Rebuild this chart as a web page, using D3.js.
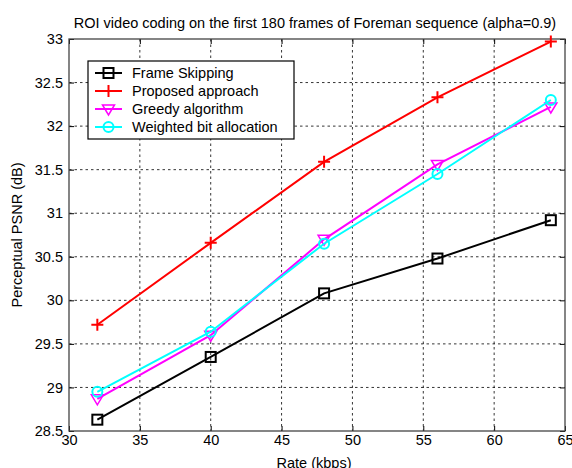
<!DOCTYPE html>
<meta charset="utf-8">
<head>
<style>
body { margin: 0; background: #fff; }
text { font-family: "Liberation Sans", Arial, sans-serif; font-size: 14.5px; fill: #000; }
.grid line { stroke: #000; stroke-dasharray: 2.5,3; stroke-width: 0.8; }
.series { fill: none; stroke-width: 2; }
</style>
</head>
<body>
<svg width="572" height="468"></svg>
<script src="https://d3js.org/d3.v7.min.js"></script>
<script>

var rates = [32, 40, 48, 56, 64];
var frameSkipping = [28.63, 29.35, 30.08, 30.48, 30.92];
var proposed = [29.72, 30.66, 31.59, 32.33, 32.97];
var greedy = [28.87, 29.60, 30.70, 31.56, 32.22];
var weighted = [28.95, 29.64, 30.65, 31.45, 32.30];
var seriesNames = ["Frame Skipping", "Proposed approach", "Greedy algorithm", "Weighted bit allocation"];
var xTicks = [30, 35, 40, 45, 50, 55, 60, 65];
var yTicks = [28.5, 29, 29.5, 30, 30.5, 31, 31.5, 32, 32.5, 33];

var svg = d3.select("svg"),
    plotL = 69, plotR = 565, plotT = 39, plotB = 431;

var x = d3.scaleLinear().domain([30, 65]).range([plotL, plotR]);
var y = d3.scaleLinear().domain([28.5, 33]).range([plotB, plotT]);

var series = [
  {name: seriesNames[0], values: frameSkipping, color: "#000000", marker: "square"},
  {name: seriesNames[1], values: proposed, color: "#ff0000", marker: "plus"},
  {name: seriesNames[2], values: greedy, color: "#ff00ff", marker: "triangle"},
  {name: seriesNames[3], values: weighted, color: "#00ffff", marker: "circle"}
];

// grid
var grid = svg.append("g").attr("class", "grid");
grid.selectAll(".gx").data(xTicks.slice(1, -1)).enter().append("line")
    .attr("x1", function(d) { return x(d); }).attr("x2", function(d) { return x(d); })
    .attr("y1", plotT).attr("y2", plotB);
grid.selectAll(".gy").data(yTicks.slice(1, -1)).enter().append("line")
    .attr("y1", function(d) { return y(d); }).attr("y2", function(d) { return y(d); })
    .attr("x1", plotL).attr("x2", plotR);

// axes (ticks inward, like matlab)
svg.append("g").attr("transform", "translate(0," + plotB + ")")
    .call(d3.axisBottom(x).tickValues(xTicks).tickSizeInner(-5).tickSizeOuter(0).tickPadding(4))
    .call(function(g) { g.select(".domain").remove(); });
svg.append("g").attr("transform", "translate(" + plotL + ",0)")
    .call(d3.axisLeft(y).tickValues(yTicks).tickFormat(d3.format("")).tickSizeInner(-5).tickSizeOuter(0).tickPadding(6))
    .call(function(g) { g.select(".domain").remove(); });
svg.append("g").attr("transform", "translate(0," + plotT + ")")
    .call(d3.axisTop(x).tickValues(xTicks).tickSizeInner(-5).tickSizeOuter(0).tickFormat(""))
    .call(function(g) { g.select(".domain").remove(); });
svg.append("g").attr("transform", "translate(" + plotR + ",0)")
    .call(d3.axisRight(y).tickValues(yTicks).tickSizeInner(-5).tickSizeOuter(0).tickFormat(""))
    .call(function(g) { g.select(".domain").remove(); });
svg.selectAll(".tick line").attr("stroke", "#000");
svg.selectAll(".tick text").style("font-size", "14.5px").attr("fill", "#000");

svg.append("rect").attr("x", plotL).attr("y", plotT)
    .attr("width", plotR - plotL).attr("height", plotB - plotT)
    .attr("fill", "none").attr("stroke", "#444").attr("stroke-width", 1.3);

function drawMarker(g, type, color) {
  if (type === "square") {
    g.append("rect").attr("x", -5).attr("y", -5).attr("width", 10).attr("height", 10)
      .attr("fill", "none").attr("stroke", color).attr("stroke-width", 2);
  } else if (type === "plus") {
    g.append("path").attr("d", "M-6,0H6M0,-6V6").attr("stroke", color).attr("stroke-width", 2);
  } else if (type === "triangle") {
    g.append("path").attr("d", "M-6,-4H6L0,6Z").attr("fill", "none").attr("stroke", color).attr("stroke-width", 1.5);
  } else {
    g.append("circle").attr("r", 5).attr("fill", "none").attr("stroke", color).attr("stroke-width", 2);
  }
}

var line = d3.line().x(function(d) { return x(d[0]); }).y(function(d) { return y(d[1]); });

series.forEach(function(s) {
  var pts = rates.map(function(r, i) { return [r, s.values[i]]; });
  svg.append("path").attr("class", "series").attr("d", line(pts)).attr("stroke", s.color);
  pts.forEach(function(p) {
    drawMarker(svg.append("g").attr("transform", "translate(" + x(p[0]) + "," + y(p[1]) + ")"), s.marker, s.color);
  });
});

// legend
var lg = svg.append("g").attr("transform", "translate(88,61)");
lg.append("rect").attr("width", 206).attr("height", 78)
  .attr("fill", "#fff").attr("stroke", "#000").attr("stroke-width", 1.2);
series.forEach(function(s, i) {
  var yy = 12 + i * 18;
  lg.append("line").attr("x1", 7).attr("x2", 34).attr("y1", yy).attr("y2", yy)
    .attr("stroke", s.color).attr("stroke-width", 2);
  drawMarker(lg.append("g").attr("transform", "translate(20.5," + yy + ")"), s.marker, s.color);
  lg.append("text").attr("x", 44).attr("y", yy + 5).text(s.name);
});

svg.append("text").attr("x", 315).attr("y", 28).attr("text-anchor", "middle")
  .text("ROI video coding on the first 180 frames of Foreman sequence (alpha=0.9)");
svg.append("text").attr("x", (plotL + plotR) / 2 - 3).attr("y", 468).attr("text-anchor", "middle")
  .text("Rate (kbps)");
svg.append("text").attr("transform", "translate(22," + ((plotT + plotB) / 2) + ") rotate(-90)")
  .attr("text-anchor", "middle").text("Perceptual PSNR (dB)");

</script>
</body>
</html>
